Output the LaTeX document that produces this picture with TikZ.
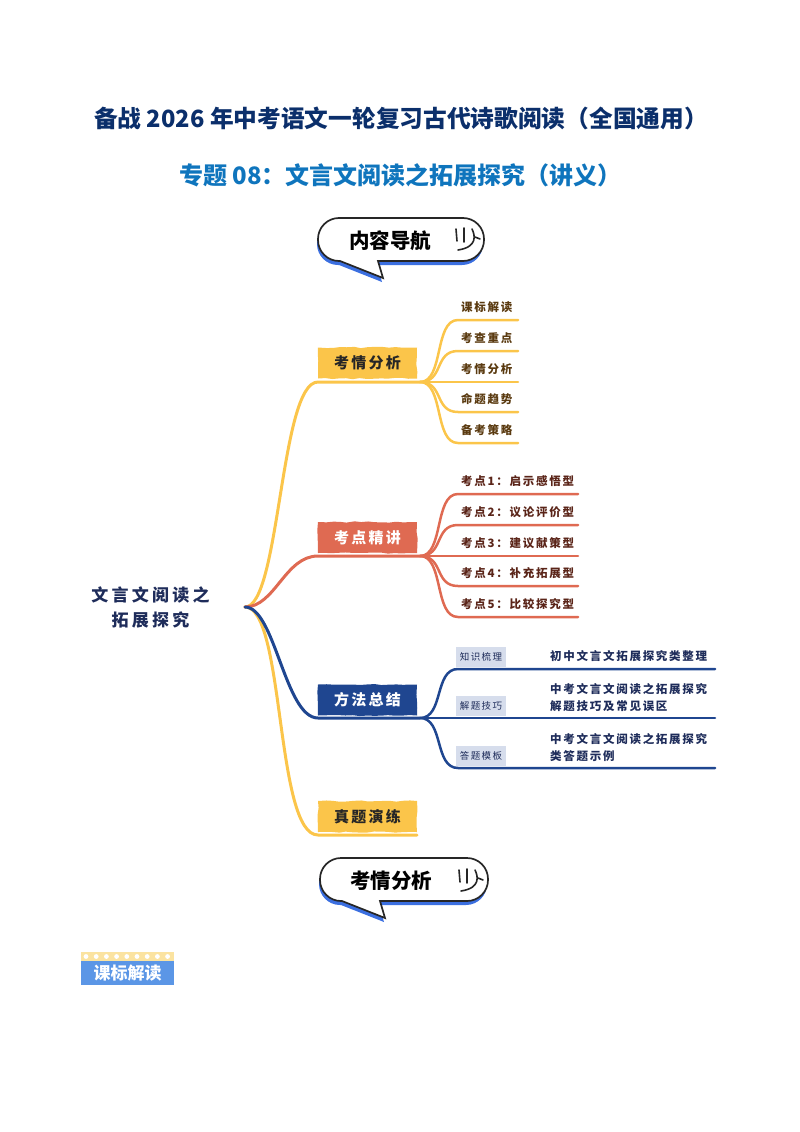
\documentclass[tikz,border=0pt]{standalone}
\usepackage{fontspec}
\usetikzlibrary{decorations.pathmorphing}
\setmainfont{Noto Sans CJK SC}
\newfontfamily\leaffont{Noto Sans CJK SC}[LetterSpace=15]
\newfontfamily\branchfont{Noto Sans CJK SC}[LetterSpace=15]
\newfontfamily\rootfont{Noto Sans CJK SC}[LetterSpace=19]
\definecolor{myyellow}{HTML}{FBC54A}
\definecolor{myred}{HTML}{DF6A52}
\definecolor{myblue}{HTML}{1F4690}
\definecolor{mybrown}{HTML}{5A3A10}
\definecolor{mymaroon}{HTML}{5A2418}
\definecolor{mynavy}{HTML}{1E2C5A}
\definecolor{titlenavy}{HTML}{0B2F6B}
\definecolor{titleblue}{HTML}{0F75BD}
\definecolor{tagfill}{HTML}{D6DDEC}
\definecolor{shadowblue}{HTML}{3B6FE0}
\definecolor{badgeblue}{HTML}{5B96E6}
\definecolor{badgeyellow}{HTML}{FBE3A0}
\definecolor{ink}{HTML}{262626}
\tikzset{
  x=1pt,y=-1pt,
  titleone/.style={inner sep=0pt,font=\fontsize{23.7}{28}\selectfont\bfseries},
  titletwo/.style={inner sep=0pt,font=\fontsize{24}{28}\selectfont\bfseries},
  branch/.style={minimum width=99pt,minimum height=31pt,inner sep=0pt,font=\fontsize{15}{18}\selectfont\branchfont\bfseries,
    decorate,decoration={random steps,segment length=7pt,amplitude=0.7pt}},
  leaftext/.style={inner sep=0pt,anchor=west,font=\fontsize{11.5}{14}\selectfont\leaffont\bfseries},
  tagbox/.style={fill=tagfill,minimum width=50pt,minimum height=20pt,inner sep=0pt,text=mynavy,font=\fontsize{9.5}{12}\selectfont\leaffont},
  bluetext/.style={inner sep=0pt,anchor=west,align=left,text=mynavy,font=\fontsize{11.5}{17}\selectfont\leaffont\bfseries},
  conn/.style={line width=2.5pt,line cap=round,line join=round},
  conn2/.style={line width=3pt,line cap=round,line join=round},
  bubbletext/.style={inner sep=0pt,font=\fontsize{20.5}{24}\selectfont\bfseries},
  iconline/.style={line width=1.6pt,line cap=round,ink},
}
\newcommand{\bubbleshape}[4]{%
  (#1+22,#4) [rounded corners=21pt] -- (#1,#4) -- (#1,#2) -- (#3,#2) -- (#3,#4) [sharp corners] -- (#1+60,#4) -- (#1+65,#4+17) -- cycle}
\newcommand{\bubbleicon}[2]{%
  \draw[iconline] (#1,#2-11) -- (#1+1,#2+1);
  \draw[iconline] (#1+8,#2-12) -- (#1+8,#2+2);
  \draw[iconline] (#1+16,#2-11) .. controls (#1+19,#2-5) and (#1+22,#2+7) .. (#1+2,#2+10);
  \draw[iconline] (#1+19,#2-3) -- (#1+24,#2-1);}
\begin{document}
\begin{tikzpicture}
\useasboundingbox (0,0) rectangle (800,1132);

% titles
\node[titleone,text=titlenavy] (title1) at (401,118) {备战 2026 年中考语文一轮复习古代诗歌阅读（全国通用）};
\node[titletwo,text=titleblue] (title2) at (400.5,175) {专题 08：文言文阅读之拓展探究（讲义）};

% bubble 1
\fill[shadowblue,xshift=-1pt,yshift=-4pt] \bubbleshape{318}{218}{484}{261};
\draw[line width=1.7pt,draw=ink,fill=white] \bubbleshape{318}{218}{484}{261};
\node[bubbletext] (nav) at (390,241) {内容导航};
\bubbleicon{456}{240}

% bubble 2
\fill[shadowblue,xshift=-1pt,yshift=-4pt] \bubbleshape{320}{858}{488}{901};
\draw[line width=1.7pt,draw=ink,fill=white] \bubbleshape{320}{858}{488}{901};
\node[bubbletext] (ana) at (391,881) {考情分析};
\bubbleicon{459}{881}

% root and hubs
\node[inner sep=0pt,align=center,text=mynavy,font=\fontsize{17}{25}\selectfont\rootfont\bfseries] (root) at (150.5,607.5) {文言文阅读之\\拓展探究};
\coordinate (r) at (245,607);

% branch boxes
\node[branch,fill=myyellow,text=ink] (b1) at (367.5,363) {考情分析};
\node[branch,fill=myred,text=white] (b2) at (367.5,537.5) {考点精讲};
\node[branch,fill=myblue,text=white] (b3) at (367.5,700) {方法总结};
\node[branch,fill=myyellow,text=ink] (b4) at (367.5,816.5) {真题演练};

\coordinate (s1) at (318,382); \coordinate (h1) at (420,382);
\coordinate (s2) at (318,556); \coordinate (h2) at (420,556);
\coordinate (s3) at (318,718); \coordinate (h3) at (420,718);
\coordinate (s4) at (318,835); \coordinate (h4) at (417,835);

% root connectors
\draw[conn2,myyellow] (r) .. controls (280,607) and (280,382) .. (s1) -- (h1);
\draw[conn2,myyellow] (r) .. controls (285,607) and (275,835) .. (s4) -- (h4);
\draw[conn2,myred] (r) .. controls (275,607) and (285,556) .. (s2) -- (h2);
\draw[conn2,myblue] (r) .. controls (275,607) and (285,718) .. (s3) -- (h3);

% yellow leaves
\foreach \n/\y/\t in {a/320/课标解读,b/351/考查重点,c/382/考情分析,d/412/命题趋势,e/443/备考策略}{
  \coordinate (y\n s) at (458,\y); \coordinate (y\n e) at (518,\y);
  \draw[conn,myyellow] (h1) .. controls +(24,0) and +(-24,0) .. (y\n s) -- (y\n e);
  \node[leaftext,text=mybrown] (yt\n) at (461,\y-13) {\t};
}
% red leaves
\foreach \n/\y/\t in {a/494/考点1：启示感悟型,b/525/考点2：议论评价型,c/556/考点3：建议献策型,d/586/考点4：补充拓展型,e/617/考点5：比较探究型}{
  \coordinate (r\n s) at (458,\y); \coordinate (r\n e) at (578,\y);
  \draw[conn,myred] (h2) .. controls +(24,0) and +(-24,0) .. (r\n s) -- (r\n e);
  \node[leaftext,text=mymaroon] (rt\n) at (461,\y-13) {\t};
}
% blue leaves
\foreach \n/\y/\t in {a/669/知识梳理,b/718/解题技巧,c/768/答题模板}{
  \coordinate (l\n s) at (458,\y); \coordinate (l\n e) at (715,\y);
  \draw[conn,myblue] (h3) .. controls +(24,0) and +(-24,0) .. (l\n s) -- (l\n e);
  \node[tagbox] (lt\n) at (481,\y-12) {\t};
}
\node[bluetext] (la) at (550,656) {初中文言文拓展探究类整理};
\node[bluetext] (lb) at (550,697.5) {中考文言文阅读之拓展探究\\解题技巧及常见误区};
\node[bluetext] (lc) at (550,747.5) {中考文言文阅读之拓展探究\\类答题示例};

% badge
\fill[badgeyellow] (81,952) rectangle (174,961);
\foreach \i in {0,...,8}{\fill[white] (86+\i*10.2,956.5) circle[radius=2.4pt];}
\node[fill=badgeblue,minimum width=93pt,minimum height=24pt,inner sep=0pt,text=white,font=\fontsize{17}{20}\selectfont\bfseries] (badge) at (127.5,973) {课标解读};
\end{tikzpicture}
\end{document}
